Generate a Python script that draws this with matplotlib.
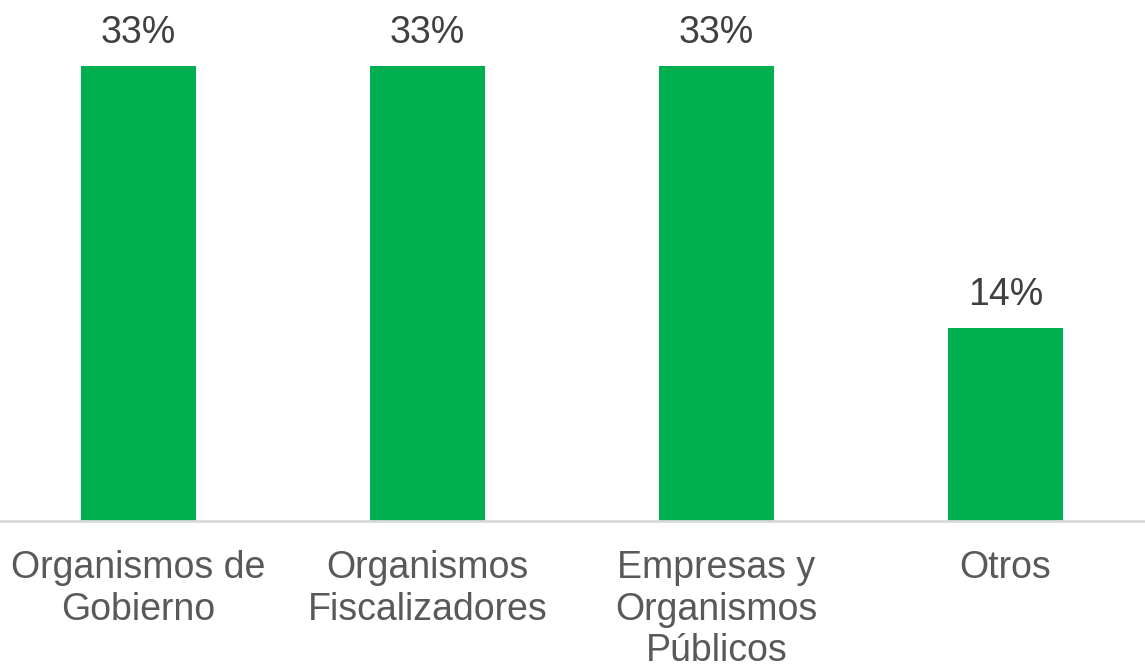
import matplotlib.pyplot as plt

categorias = ['Organismos de\nGobierno', 'Organismos\nFiscalizadores',
              'Empresas y\nOrganismos\nPúblicos', 'Otros']
valores = [33, 33, 33, 14]

plt.rcParams['font.family'] = ['Liberation Sans', 'DejaVu Sans']

fig = plt.figure(figsize=(11.45, 6.68), dpi=100)
ax = fig.add_axes([-6 / 1145, 147 / 668, 1156 / 1145, 521 / 668])

x = range(len(categorias))
bars = ax.bar(x, valores, width=0.4, color='#00B050')

for b, v in zip(bars, valores):
    ax.annotate(f'{v}%', (b.get_x() + b.get_width() / 2, b.get_height()),
                xytext=(0, 11), textcoords='offset points',
                ha='center', va='bottom', fontsize=27, color='#404040')

ax.set_xlim(-0.5, len(categorias) - 0.5)
ax.set_ylim(0, 33 * 521 / 455)
ax.set_xticks(list(x))
ax.set_xticklabels(categorias, fontsize=27, color='#595959', linespacing=1.2)
ax.tick_params(axis='x', length=0, pad=21)
ax.set_yticks([])
for s in ['top', 'right', 'left']:
    ax.spines[s].set_visible(False)
ax.spines['bottom'].set_color('#D9D9D9')
ax.spines['bottom'].set_linewidth(2)

fig.savefig('out.png', dpi=100)
